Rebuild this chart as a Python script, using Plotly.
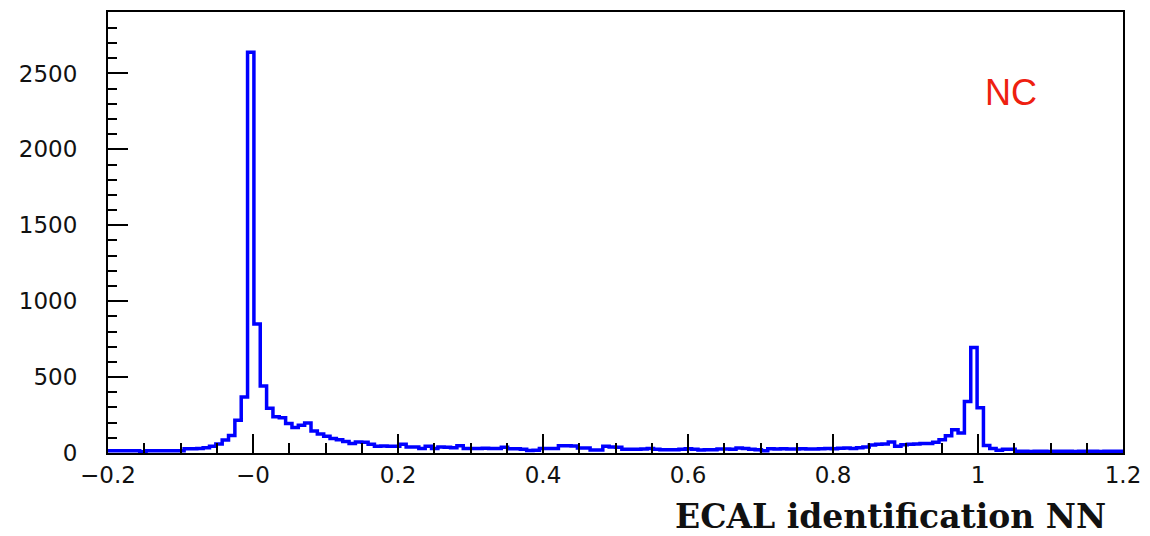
import numpy as np
import plotly.graph_objects as go

# Histogram binning (ROOT-style TH1: 160 bins from -0.2 to 1.2)
X_MIN, X_MAX, N_BINS = -0.2, 1.2, 160

# Bin contents, left to right
counts_left_flat = [14, 14, 14, 14, 14, 9, 14, 14, 14, 14, 14, 14]
counts_rise0 = [28, 28, 30, 35, 45, 60, 85, 115, 216, 369]
counts_peak0 = [2640, 850, 442, 295, 238, 232, 195, 168, 182, 198]
counts_tail0 = [145, 125, 110, 95, 88, 75, 62, 72, 70, 57,
                45, 46, 44, 44, 57, 40, 39, 30, 44, 30,
                40, 38, 34, 47, 30, 30, 29, 32, 29, 30]
counts_middle = [38, 28, 28, 25, 16, 18, 30, 30, 30, 48,
                 48, 46, 33, 33, 20, 20, 45, 40, 38, 25,
                 25, 25, 27, 30, 24, 22, 22, 22, 24, 28,
                 24, 20, 22, 22, 26, 26, 25, 33, 30, 24,
                 22, 14, 28, 26, 28, 26, 27, 28, 26, 27,
                 28, 30, 28, 32, 33, 30, 35, 40, 52, 57]
counts_rise1 = [60, 72, 44, 55, 57, 60, 62, 62, 70, 88]
counts_peak1 = [114, 153, 131, 339, 695, 298, 50, 29, 18, 24]
counts_right_flat = [24, 11, 11, 10, 11, 11, 10, 11, 11, 11,
                     10, 11, 11, 11, 10, 11, 11, 11]

counts = (counts_left_flat + counts_rise0 + counts_peak0 + counts_tail0
          + counts_middle + counts_rise1 + counts_peak1 + counts_right_flat)

x_tick_vals = [-0.2, 0.0, 0.2, 0.4, 0.6, 0.8, 1.0, 1.2]
x_tick_text = ["\u22120.2", "\u22120", "0.2", "0.4", "0.6", "0.8", "1", "1.2"]
y_tick_vals = [0, 500, 1000, 1500, 2000, 2500]
y_tick_text = ["0", "500", "1000", "1500", "2000", "2500"]
Y_MAX = 2905

x_title = "ECAL identification NN"
label_text = "NC"

edges = np.linspace(X_MIN, X_MAX, N_BINS + 1)
xs = list(edges)
ys = counts + [counts[-1]]

fig = go.Figure()
fig.add_trace(go.Scatter(
    x=xs, y=ys, mode="lines",
    line=dict(shape="hv", color="#0000ff", width=3.5),
    hoverinfo="skip", showlegend=False,
))

tick_font = dict(family="DejaVu Sans", size=23, color="#111111")

# the page body has an 8px margin, so the figure is 8px smaller than the window
fig.update_layout(
    width=1142, height=528,
    margin=dict(l=100, r=27, t=2, b=83),
    paper_bgcolor="white", plot_bgcolor="white",
    showlegend=False,
    xaxis=dict(
        range=[X_MIN, X_MAX], tickmode="array",
        tickvals=x_tick_vals, ticktext=x_tick_text,
        ticks="inside", ticklen=19, tickwidth=2, tickcolor="black",
        minor=dict(tickmode="linear", tick0=X_MIN, dtick=0.05,
                   ticks="inside", ticklen=10, tickwidth=2, tickcolor="black",
                   showgrid=False),
        showline=True, linewidth=2, linecolor="black", mirror=True,
        showgrid=False, zeroline=False,
        tickfont=tick_font, ticklabelstandoff=0,
    ),
    yaxis=dict(
        range=[0, Y_MAX], tickmode="array",
        tickvals=y_tick_vals, ticktext=y_tick_text,
        ticks="inside", ticklen=20, tickwidth=2, tickcolor="black",
        minor=dict(tickmode="linear", tick0=0, dtick=100,
                   ticks="inside", ticklen=9, tickwidth=2, tickcolor="black",
                   showgrid=False),
        showline=True, linewidth=2, linecolor="black", mirror=True,
        showgrid=False, zeroline=False,
        tickfont=tick_font, ticklabelstandoff=24,
    ),
    annotations=[
        dict(text="<b>" + x_title + "</b>", xref="paper", yref="paper",
             x=0.985, y=-0.145, xanchor="right", yanchor="middle",
             showarrow=False,
             font=dict(family="DejaVu Serif", size=33, color="#111111")),
        dict(text=label_text, xref="paper", yref="paper", x=0.89, y=0.817,
             xanchor="center", yanchor="middle", showarrow=False,
             font=dict(family="Liberation Sans", size=36, color="#ee2010")),
    ],
)

fig.write_html("out.html")
